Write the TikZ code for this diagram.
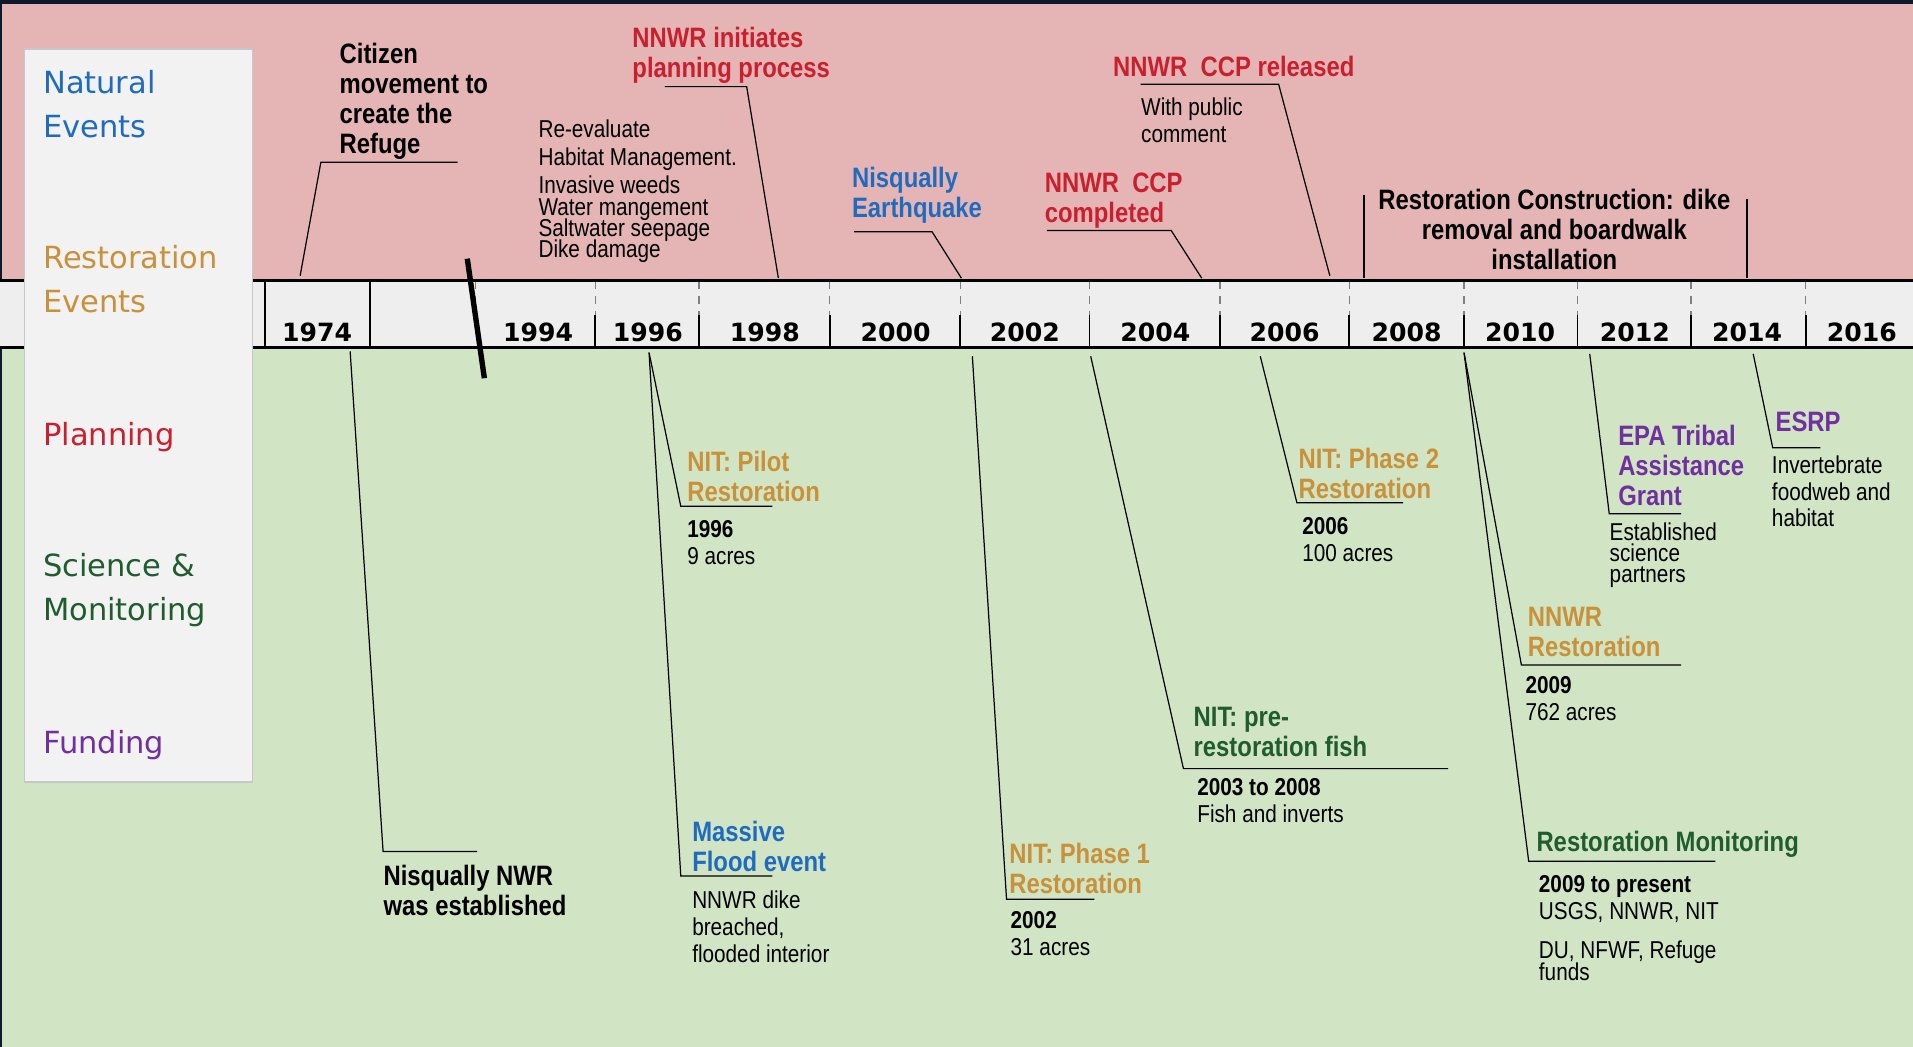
\documentclass[tikz,border=0pt]{standalone}
\usepackage{fontspec}
\usepackage{xcolor}
\setmainfont{Liberation Sans}
\newfontfamily\narrow[FakeStretch=0.85]{Liberation Sans}
\newfontfamily\lanefont{DejaVu Sans}
\lineskiplimit=-20pt

\definecolor{framebg}{HTML}{0C1A2B}
\definecolor{pinkbg}{HTML}{E5B4B4}
\definecolor{greenbg}{HTML}{D1E5C5}
\definecolor{bandbg}{HTML}{EEEEEE}
\definecolor{panelbg}{HTML}{F2F2F2}
\definecolor{natblue}{HTML}{1F6CBF}
\definecolor{resgold}{HTML}{C8913A}
\definecolor{planred}{HTML}{C8202F}
\definecolor{scigreen}{HTML}{1F5C2E}
\definecolor{fundpurple}{HTML}{7030A0}

\begin{document}
\begin{tikzpicture}[x=0.5pt,y=-0.5pt,
    ttl/.style={font=\narrow\bfseries\fontsize{11.5}{12.3}\selectfont, align=left, anchor=north west, inner sep=0pt},
    txt/.style={font=\narrow\fontsize{10}{11}\selectfont, align=left, anchor=north west, inner sep=0pt},
    tight/.style={font=\narrow\fontsize{10}{8.7}\selectfont},
    yr/.style={font=\lanefont\bfseries\fontsize{10.3}{12}\selectfont, anchor=base, inner sep=0pt},
    lane/.style={font=\lanefont\fontsize{12.5}{18}\selectfont, align=left, anchor=north west, inner sep=0pt},
    leader/.style={line width=0.5pt},
    divider/.style={line width=0.8pt}]
    \useasboundingbox (0,0) rectangle (1568,858);

    % Draw the background bands
    \fill[framebg] (0,0) rectangle (1568,858);
    \fill[pinkbg] (2,3) rectangle (1568,230);
    \fill[greenbg] (2,285) rectangle (1568,858);
    \fill[bandbg] (0,230) rectangle (1568,285);
    \draw[line width=1pt] (0,230) -- (1568,230);
    \draw[line width=1pt] (0,285) -- (1568,285);

    % Draw the year dividers
    \draw[divider] (217,230) -- (217,285);
    \draw[divider] (303,230) -- (303,285);
    \draw[gray, dashed, line width=0.5pt] (390,231) -- (390,258);
    \foreach \x in {488,573,680,787,893,1000,1106,1200,1293,1386,1480} {
        \draw[gray, dashed, line width=0.5pt] (\x,231) -- (\x,258);
        \draw[divider] (\x,258) -- (\x,285);
    }

    % Draw the year labels
    \foreach \x/\year in {260/1974,441/1994,531/1996,627/1998,734/2000,840/2002,947/2004,1053/2006,1153/2008,1246/2010,1340/2012,1432/2014,1526/2016}
        \node[yr] (y\year) at (\x,280) {\year};

    % Draw the time break
    \draw[line width=2.2pt] (383,212) -- (397,310);

    % Draw the legend panel
    \filldraw[fill=panelbg, draw=black!22, line width=0.6pt] (20,40) rectangle (207,641);
    \node[lane, text=natblue] (natural) at (35,57) {Natural\\Events};
    \node[lane, text=resgold] (restoration) at (35,201) {Restoration\\Events};
    \node[lane, text=planred] (planning) at (35,346) {Planning};
    \node[lane, text=scigreen] (science) at (35,453) {Science \&\\Monitoring};
    \node[lane, text=fundpurple] (funding) at (35,598) {Funding};

    % Events above the timeline
    \node[ttl] (citizen) at (278,35) {Citizen\\movement to\\create the\\Refuge};
    \node[ttl, text=planred] (initiates) at (518,22) {NNWR initiates\\planning process};
    \node[txt, tight] (reeval) at (441,98)
        {Re-evaluate\\[2.6pt]Habitat Management.\\[3pt]Invasive weeds\\Water mangement\\Saltwater seepage\\Dike damage};
    \node[ttl, text=natblue] (quake) at (698,137) {Nisqually\\Earthquake};
    \node[ttl, text=planred] (ccpdone) at (856,141) {NNWR\ \ CCP\\completed};
    \node[ttl, text=planred] (ccprel) at (912,46) {NNWR\ \ CCP released};
    \node[txt] (public) at (935,80) {With public\\comment};
    \node[ttl, align=center, anchor=north] (construct) at (1274,155)
        {Restoration Construction: dike\\removal and boardwalk\\installation};

    % Events below the timeline
    \node[ttl] (established) at (314,709) {Nisqually NWR\\was established};
    \node[ttl, text=resgold] (pilot) at (563,369) {NIT: Pilot\\Restoration};
    \node[txt] (pilotsub) at (563,426) {\bfseries 1996\\9 acres};
    \node[ttl, text=natblue] (flood) at (567,673) {Massive\\Flood event};
    \node[txt] (floodsub) at (567,730) {NNWR dike\\breached,\\flooded interior};
    \node[ttl, text=resgold] (phaseone) at (827,691) {NIT: Phase 1\\Restoration};
    \node[txt] (phaseonesub) at (828,747) {\bfseries 2002\\31 acres};
    \node[ttl, text=scigreen] (prefish) at (978,579) {NIT: pre-\\restoration fish};
    \node[txt] (prefishsub) at (981,638) {\bfseries 2003 to 2008\\Fish and inverts};
    \node[ttl, text=resgold] (phasetwo) at (1064,367) {NIT: Phase 2\\Restoration};
    \node[txt] (phasetwosub) at (1067,424) {\bfseries 2006\\100 acres};
    \node[ttl, text=resgold] (nnwrrest) at (1252,497) {NNWR\\Restoration};
    \node[txt] (nnwrrestsub) at (1250,554) {\bfseries 2009\\762 acres};
    \node[ttl, text=scigreen] (monitor) at (1259,681) {Restoration Monitoring};
    \node[txt] (monitorsub) at (1261,717)
        {\bfseries 2009 to present\\USGS, NNWR, NIT\\[5pt]DU, NFWF, Refuge\\[-2pt]funds};
    \node[ttl, text=fundpurple] (epa) at (1326,348) {EPA Tribal\\Assistance\\Grant};
    \node[txt, tight] (epasub) at (1319,428) {Established\\science\\partners};
    \node[ttl, text=fundpurple] (esrp) at (1455,337) {ESRP};
    \node[txt] (esrpsub) at (1452,373) {Invertebrate\\foodweb and\\habitat};

    % Leader lines above the timeline
    \coordinate (t1974) at (246,226); \coordinate (citk) at (263,133); \coordinate (cite) at (375,133);
    \draw[leader] (t1974) -- (citk) -- (cite);
    \coordinate (t1998) at (638,228); \coordinate (inik) at (612,71); \coordinate (inie) at (545,71);
    \draw[leader] (t1998) -- (inik) -- (inie);
    \coordinate (t2001) at (788,228); \coordinate (quak) at (764,190); \coordinate (quae) at (700,190);
    \draw[leader] (t2001) -- (quak) -- (quae);
    \coordinate (t2003) at (985,228); \coordinate (donk) at (960,189); \coordinate (done) at (858,189);
    \draw[leader] (t2003) -- (donk) -- (done);
    \coordinate (t2007) at (1090,226); \coordinate (relk) at (1048,69); \coordinate (rele) at (935,69);
    \draw[leader] (t2007) -- (relk) -- (rele);
    \coordinate (t2008) at (1118,228); \coordinate (conl) at (1118,160);
    \coordinate (t2015) at (1432,228); \coordinate (conr) at (1432,163);
    \draw[leader] (t2008) -- (conl);
    \draw[leader] (t2015) -- (conr);

    % Leader lines below the timeline
    \coordinate (b1974) at (287,288); \coordinate (estk) at (314,698); \coordinate (este) at (391,698);
    \draw[leader] (b1974) -- (estk) -- (este);
    \coordinate (b1996) at (532,289);
    \coordinate (pilk) at (558,415); \coordinate (pile) at (633,415);
    \draw[leader] (b1996) -- (pilk) -- (pile);
    \coordinate (flok) at (558,718); \coordinate (floe) at (633,718);
    \draw[leader] (b1996) -- (flok) -- (floe);
    \coordinate (b2002) at (797,292); \coordinate (ph1k) at (825,737); \coordinate (ph1e) at (897,737);
    \draw[leader] (b2002) -- (ph1k) -- (ph1e);
    \coordinate (b2004) at (894,292); \coordinate (fisk) at (970,630); \coordinate (fise) at (1187,630);
    \draw[leader] (b2004) -- (fisk) -- (fise);
    \coordinate (b2006) at (1033,292); \coordinate (ph2k) at (1063,412); \coordinate (ph2e) at (1150,412);
    \draw[leader] (b2006) -- (ph2k) -- (ph2e);
    \coordinate (b2010) at (1200,289);
    \coordinate (resk) at (1247,545); \coordinate (rese) at (1378,545);
    \draw[leader] (b2010) -- (resk) -- (rese);
    \coordinate (monk) at (1253,706); \coordinate (mone) at (1406,706);
    \draw[leader] (b2010) -- (monk) -- (mone);
    \coordinate (b2012) at (1303,290); \coordinate (epak) at (1319,421); \coordinate (epae) at (1378,421);
    \draw[leader] (b2012) -- (epak) -- (epae);
    \coordinate (b2014) at (1437,290); \coordinate (esrk) at (1453,367); \coordinate (esre) at (1492,367);
    \draw[leader] (b2014) -- (esrk) -- (esre);
\end{tikzpicture}
\end{document}
